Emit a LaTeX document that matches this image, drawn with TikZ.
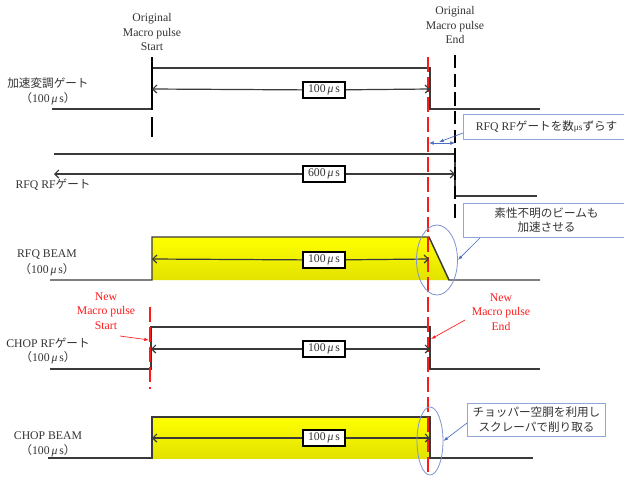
\documentclass[tikz,border=0pt]{standalone}
\usepackage{fontspec}
\setmainfont{Liberation Serif}
\newfontfamily\jp{Noto Sans CJK JP}
\usetikzlibrary{arrows.meta,shapes.geometric}
\definecolor{sigc}{HTML}{3A3A3A}
\definecolor{txtc}{HTML}{333333}
\definecolor{redc}{HTML}{FF1A1A}
\definecolor{bluec}{HTML}{4A6FC0}
\definecolor{boxc}{HTML}{8FA8D8}
\definecolor{ellc}{HTML}{7F92D2}
\definecolor{ytop}{HTML}{FFFF00}
\definecolor{ybot}{HTML}{E2E200}
\newcommand\fs{\fontsize{8.8}{10.9}\selectfont}
\newcommand\jfs{\fontsize{8.7}{11}\selectfont}
\newcommand\mus{\textit{μ}}
\newcommand\usec{{\jp （}100\,\mus\,s{\jp ）}}
\begin{document}
\begin{tikzpicture}[x=0.75pt,y=-0.75pt,
  sig/.style={draw=sigc, line width=1.1pt},
  dimarrow/.style={draw=sigc, line width=0.9pt, -{Straight Barb[length=3pt,width=6pt]}},
  dimbox/.style={draw=black, line width=0.8pt, fill=white, inner sep=1pt, minimum width=31.5pt, minimum height=12pt, font=\fs, text=txtc},
  siglabel/.style={font=\fs, text=txtc, inner sep=0pt},
  toplabel/.style={font=\fs, text=txtc, align=center, inner sep=0pt},
  redlabel/.style={font=\fs, text=redc, align=center, inner sep=0pt},
  reddash/.style={draw=redc, line width=1.2pt, dash pattern=on 11pt off 4pt},
  blackdash/.style={draw=black, line width=1.2pt, dash pattern=on 10pt off 4pt},
  callout/.style={draw=boxc, line width=0.6pt, fill=white, align=center, font=\jfs\jp, text=txtc, inner sep=1pt},
  ellmark/.style={draw=ellc, line width=0.6pt, ellipse, inner sep=0pt},
  pointer/.style={draw=bluec, line width=0.5pt, -{Latex[length=3.5pt,width=2.5pt]}},
  redptr/.style={draw=redc, line width=0.5pt, -{Latex[length=3.5pt,width=2.5pt]}}
]
\useasboundingbox (0,0) rectangle (624,476);

% yellow beams
\shade[top color=ytop, bottom color=ybot] (152,237) -- (429,237) -- (449,280) -- (152,280) -- cycle;
\shade[top color=ytop, bottom color=ybot] (152,417) -- (430,417) -- (430,458) -- (152,458) -- cycle;

% signals
\draw[sig] (52,109) -- (152,109) -- (152,68) -- (430,68) -- (430,109) -- (540,109);
\draw[sig] (54,154) -- (455,154) -- (455,196) -- (537,196);
\draw[sig] (50,280) -- (152,280) -- (152,237) -- (429,237) -- (449,280) -- (540,280);
\draw[sig] (50,369) -- (151,369) -- (151,327) -- (430,327) -- (430,369) -- (540,369);
\draw[sig] (48,458) -- (152,458) -- (152,417) -- (430,417) -- (430,458) -- (533,458);

% markers
\coordinate (m1a) at (152,57); \coordinate (m1b) at (152,137);
\draw[draw=black, line width=1.2pt, dash pattern=on 40pt off 5pt on 15pt off 5pt] (m1a) -- (m1b);
\coordinate (m2a) at (455,55); \coordinate (m2b) at (455,218);
\draw[blackdash] (m2a) -- (m2b);
\coordinate (r1a) at (428,57); \coordinate (r1b) at (428,476);
\draw[reddash] (r1a) -- (r1b);
\coordinate (r2a) at (150,307); \coordinate (r2b) at (150,389);
\draw[reddash] (r2a) -- (r2b);

% dimension arrows
\node[dimbox] (d1) at (324,90) {100\,\mus\,s};
\coordinate (d1l) at (152,89); \coordinate (d1r) at (430,89);
\draw[dimarrow] (d1) -- (d1l); \draw[dimarrow] (d1) -- (d1r);
\node[dimbox] (d2) at (324,174) {600\,\mus\,s};
\coordinate (d2l) at (54,174); \coordinate (d2r) at (455,174);
\draw[dimarrow] (d2) -- (d2l); \draw[dimarrow] (d2) -- (d2r);
\node[dimbox] (d3) at (324,260) {100\,\mus\,s};
\coordinate (d3l) at (152,259); \coordinate (d3r) at (429,259);
\draw[dimarrow] (d3) -- (d3l); \draw[dimarrow] (d3) -- (d3r);
\node[dimbox] (d4) at (324,349) {100\,\mus\,s};
\coordinate (d4l) at (151,349); \coordinate (d4r) at (430,349);
\draw[dimarrow] (d4) -- (d4l); \draw[dimarrow] (d4) -- (d4r);
\node[dimbox] (d5) at (324,438) {100\,\mus\,s};
\coordinate (d5l) at (152,438); \coordinate (d5r) at (430,438);
\draw[dimarrow] (d5) -- (d5l); \draw[dimarrow] (d5) -- (d5r);

% signal labels
\node[siglabel] (l1) at (48,83) {\jp\jfs 加速変調ゲート};
\node[siglabel] (l1b) at (48,99) {\usec};
\node[siglabel] (l2) at (53,185) {RFQ RF{\jp\jfs ゲート}};
\node[siglabel] (l3) at (47,255) {RFQ BEAM};
\node[siglabel] (l3b) at (47,270) {\usec};
\node[siglabel] (l4) at (48,343) {CHOP RF{\jp\jfs ゲート}};
\node[siglabel] (l4b) at (48,358) {\usec};
\node[siglabel] (l5) at (48,436) {CHOP BEAM};
\node[siglabel] (l5b) at (48,451) {\usec};

% top labels
\node[toplabel] (os) at (152,32) {Original\\Macro pulse\\Start};
\node[toplabel] (oe) at (455,25) {Original\\Macro pulse\\End};
\node[redlabel] (ns) at (106,311) {New\\Macro pulse\\Start};
\node[redlabel] (ne) at (501,312) {New\\Macro pulse\\End};
\coordinate (nsa) at (120,336); \coordinate (nsb) at (149,340);
\draw[redptr] (nsa) -- (nsb);
\coordinate (nea) at (465,320); \coordinate (neb) at (431,339);
\draw[redptr] (nea) -- (neb);

% callouts
\node[callout, minimum width=125.25pt, minimum height=18.75pt] (c1) at (546.5,126.5) {{\rmfamily\fs RFQ RF}ゲートを数{\rmfamily\fontsize{7}{8}\selectfont μs}ずらす};
\coordinate (c1p) at (463,133); \coordinate (c1t) at (439,142);
\draw[pointer] (c1p) -- (c1t);
\coordinate (s1) at (429,143); \coordinate (s2) at (455,143);
\draw[draw=bluec, line width=0.6pt, {Latex[length=3.5pt,width=3pt]}-{Latex[length=3.5pt,width=3pt]}] (s1) -- (s2);

\node[callout, minimum width=125.25pt, minimum height=25.5pt] (c2) at (546.5,220) {素性不明のビームも\\加速させる};
\node[ellmark, minimum width=30.75pt, minimum height=52.5pt] (e2) at (437,260) {};
\coordinate (c2p) at (480,238);
\draw[pointer] (c2p) -- (e2.east);

\node[callout, minimum width=104pt, minimum height=24.75pt] (c3) at (536.5,419.5) {チョッパー空胴を利用し\\スクレーパで削り取る};
\node[ellmark, minimum width=19.5pt, minimum height=51pt] (e3) at (430,441) {};
\coordinate (c3p) at (467,423);
\draw[pointer] (c3p) -- (e3.east);
\end{tikzpicture}
\end{document}
